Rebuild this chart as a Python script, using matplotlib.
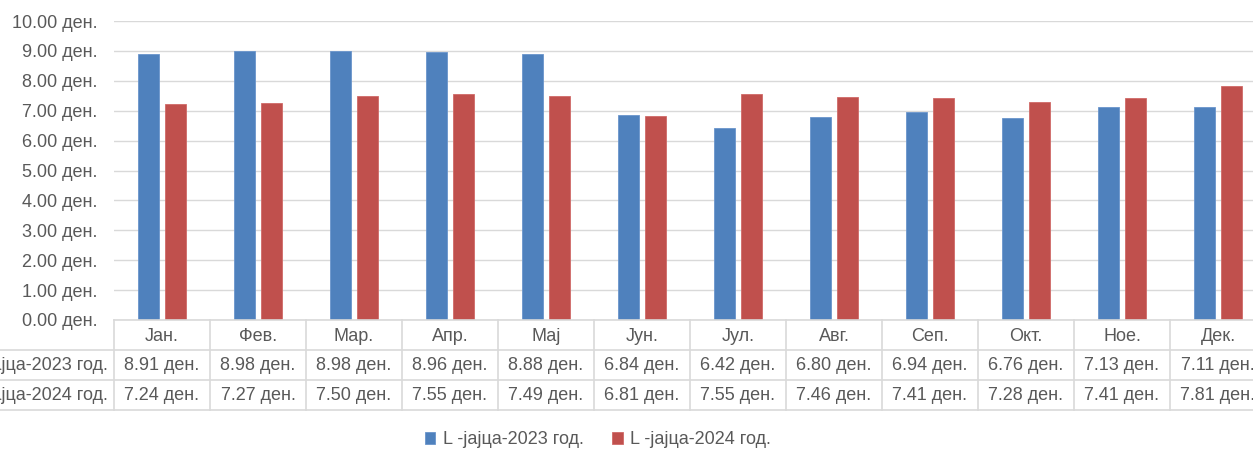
import matplotlib.pyplot as plt
import numpy as np

meseci = ["Јан.", "Фев.", "Мар.", "Апр.", "Мај", "Јун.", "Јул.", "Авг.", "Сеп.", "Окт.", "Ное.", "Дек."]
serija_2023 = [8.91, 8.98, 8.98, 8.96, 8.88, 6.84, 6.42, 6.80, 6.94, 6.76, 7.13, 7.11]
serija_2024 = [7.24, 7.27, 7.50, 7.55, 7.49, 6.81, 7.55, 7.46, 7.41, 7.28, 7.41, 7.81]
ime_2023 = "L -јајца-2023 год."
ime_2024 = "L -јајца-2024 год."

W, H = 1253, 451
SIVA = "#595959"
LINIJA = "#D9D9D9"
SINA = "#4F81BD"
CRVENA = "#C0504D"
FS = 13
plt.rcParams["font.family"] = ["Liberation Sans", "DejaVu Sans"]

fig = plt.figure(figsize=(W / 100, H / 100), dpi=100)

# glavni grafik
ax = fig.add_axes([114 / W, (H - 320) / H, 1152 / W, 299 / H])
x = np.arange(len(meseci))
b1 = ax.bar(x + 0.355, serija_2023, width=0.22, color=SINA, edgecolor="#6A95CC", linewidth=0.6, label=ime_2023, zorder=3)
b2 = ax.bar(x + 0.645, serija_2024, width=0.22, color=CRVENA, edgecolor="#D06A67", linewidth=0.6, label=ime_2024, zorder=3)
ax.set_xlim(0, 12)
ax.set_ylim(0, 10)
ax.set_yticks(np.arange(0, 11, 1))
ax.set_yticklabels(["%.2f ден." % v for v in range(11)], color=SIVA, fontsize=FS)
ax.tick_params(axis="y", length=0, pad=12)
ax.set_xticks([])
ax.grid(axis="y", color=LINIJA, linewidth=1, zorder=0)
for s in ax.spines.values():
    s.set_visible(False)

# tabela so podatoci
at = fig.add_axes([114 / W, (H - 410) / H, 1152 / W, 90 / H])
at.set_xlim(0, 12)
at.set_ylim(0, 3)
at.axis("off")
for i in range(13):
    at.plot([i, i], [0, 3], color=LINIJA, linewidth=1.2, clip_on=False)
at.plot([0, 12], [3, 3], color=LINIJA, linewidth=1.2, clip_on=False)
for yy in [0, 1, 2]:
    at.plot([-2, 12], [yy, yy], color=LINIJA, linewidth=1.2, clip_on=False)
for i, m in enumerate(meseci):
    at.text(i + 0.5, 2.45, m, ha="center", va="center", color=SIVA, fontsize=FS)
    at.text(i + 0.5, 1.5, "%.2f ден." % serija_2023[i], ha="center", va="center", color=SIVA, fontsize=FS)
    at.text(i + 0.5, 0.5, "%.2f ден." % serija_2024[i], ha="center", va="center", color=SIVA, fontsize=FS)
at.text(-0.06, 1.5, ime_2023, ha="right", va="center", color=SIVA, fontsize=FS, clip_on=False)
at.text(-0.06, 0.5, ime_2024, ha="right", va="center", color=SIVA, fontsize=FS, clip_on=False)

fig.legend(handles=[b1, b2], labels=[ime_2023, ime_2024], loc="center", bbox_to_anchor=(598 / W, 1 - 440 / H),
           ncol=2, frameon=False, fontsize=FS, labelcolor=SIVA, handlelength=0.6, handleheight=0.6,
           handletextpad=0.4, columnspacing=1.6)

plt.savefig("out.png", dpi=100)
